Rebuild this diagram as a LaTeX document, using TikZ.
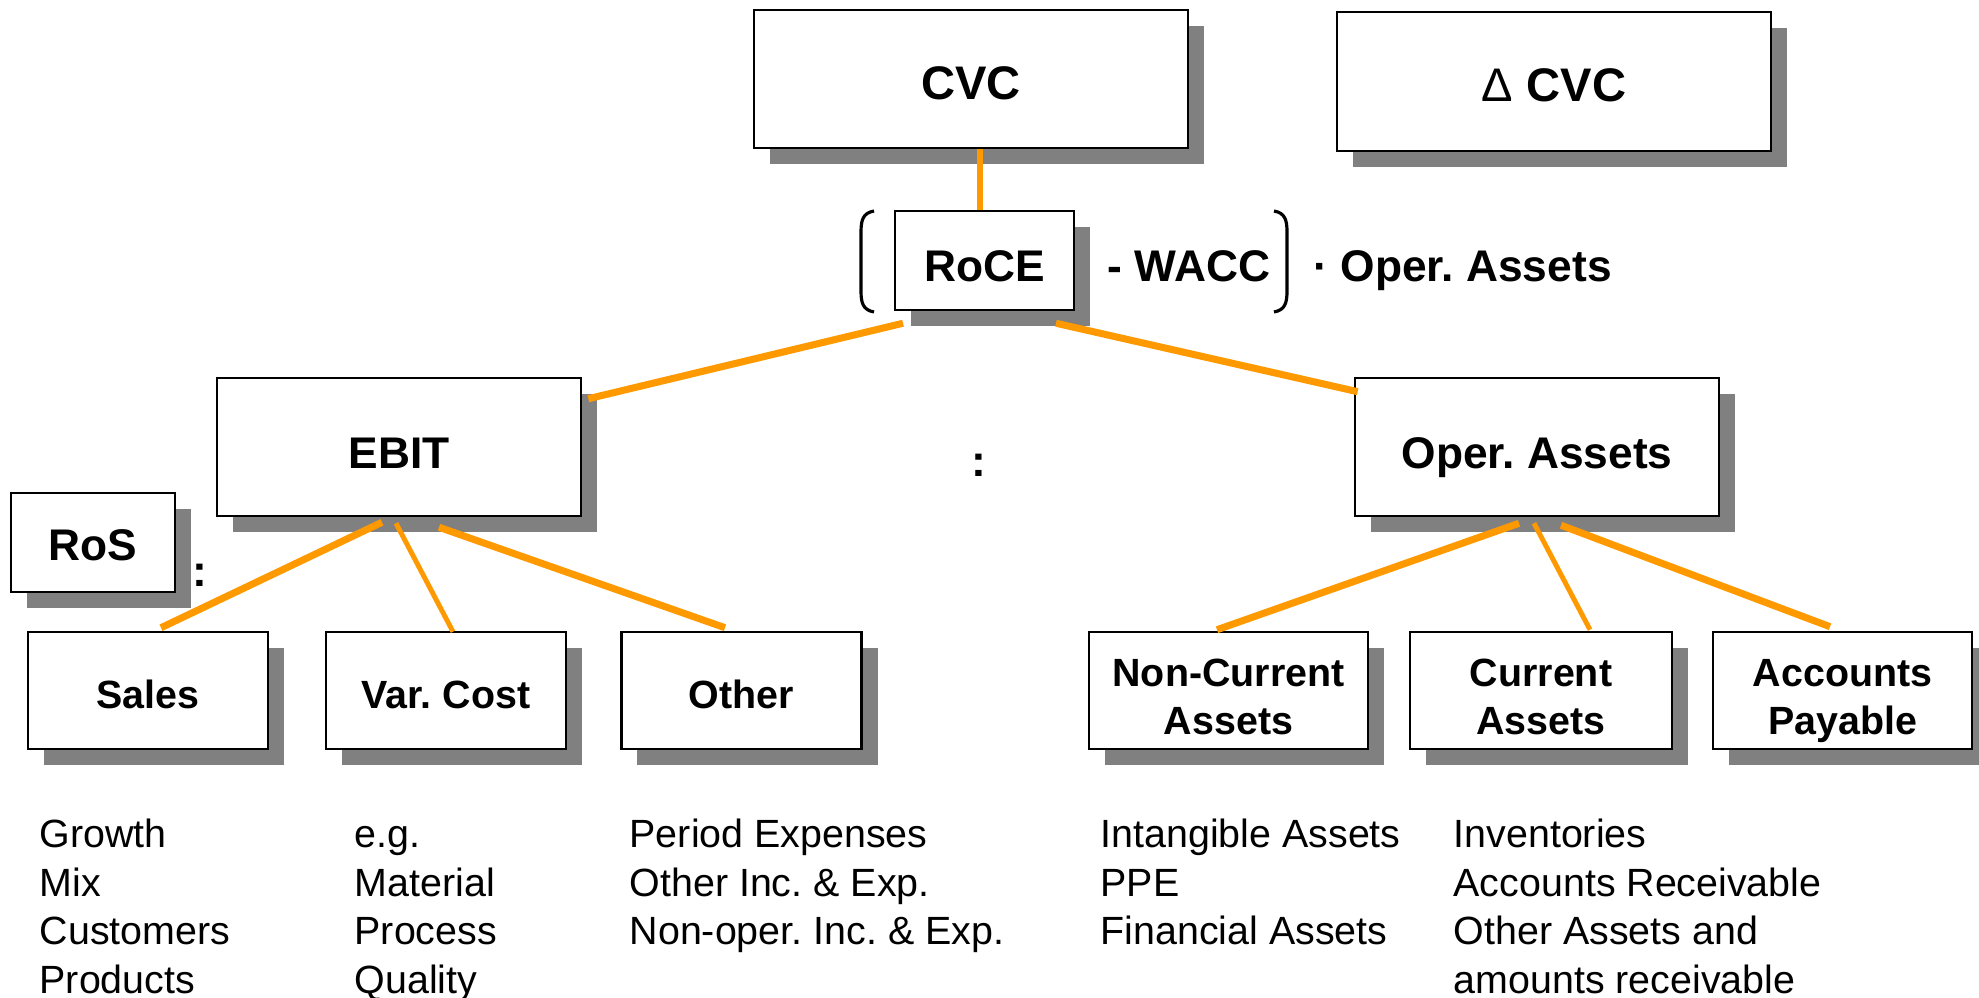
\documentclass[tikz,border=0pt]{standalone}
\usepackage{fontspec}
\setmainfont{Liberation Sans}
\usetikzlibrary{shadows,calc}
\definecolor{org}{RGB}{255,153,0}
\definecolor{shd}{RGB}{128,128,128}
\tikzset{
  box/.style={draw=black, line width=0.7pt, fill=white, inner sep=0pt,
    text height=9.96pt, text depth=0pt,
    font=\bfseries\fontsize{11.2}{13.66}\selectfont,
    general shadow={shadow xshift=0.16cm, shadow yshift=-0.16cm, fill=shd, draw=none}},
  twobox/.style={box, text height=25.3pt},
  bigbox/.style={box, text height=11.95pt, font=\bfseries\fontsize{12.6}{15}\selectfont},
  topbox/.style={box, text height=11.4pt, font=\bfseries\fontsize{13.4}{16}\selectfont},
  conn/.style={draw=org, line width=2pt},
  thinconn/.style={draw=org, line width=1.4pt},
  body/.style={inner sep=0pt, anchor=base west, font=\fontsize{11.2}{13.7}\selectfont},
  bold/.style={inner sep=0pt, anchor=base west, font=\bfseries\fontsize{12.6}{15}\selectfont},
  paren/.style={draw=black, line width=0.9pt},
}
\newcommand{\twolines}[2]{\begin{tabular}[b]{@{}c@{}}#1\\#2\end{tabular}}
\begin{document}
\frenchspacing
\begin{tikzpicture}[x=0.01cm, y=-0.01cm]
\useasboundingbox (0,0) rectangle (1979,998);
% boxes
\node[topbox, minimum width=4.34cm, minimum height=1.38cm] (cvc) at (971,79) {CVC};
\node[topbox, minimum width=4.34cm, minimum height=1.39cm] (dcvc) at (1554,81.5) {{\mdseries Δ} CVC};
\node[bigbox, minimum width=1.79cm, minimum height=0.99cm] (roce) at (984.5,260.5) {RoCE};
\node[bigbox, minimum width=3.64cm, minimum height=1.38cm] (ebit) at (399,447) {EBIT};
\node[bigbox, minimum width=3.64cm, minimum height=1.38cm] (opa) at (1537,447) {Oper. Assets};
\node[bigbox, text height=9.96pt, minimum width=1.64cm, minimum height=0.99cm] (ros) at (93,542.5) {RoS};
\node[box, minimum width=2.40cm, minimum height=1.17cm] (sales) at (148,690.5) {Sales};
\node[box, minimum width=2.40cm, minimum height=1.17cm] (var) at (446,690.5) {Var. Cost};
\node[box, minimum width=2.40cm, minimum height=1.17cm] (oth) at (741.5,690.5) {Other};
\node[twobox, minimum width=2.79cm, minimum height=1.17cm] (nca) at (1228.5,690.5) {\twolines{Non-Current}{Assets}};
\node[twobox, minimum width=2.62cm, minimum height=1.17cm] (ca) at (1541,690.5) {\twolines{Current}{Assets}};
\node[twobox, minimum width=2.59cm, minimum height=1.17cm] (ap) at (1842.5,690.5) {\twolines{Accounts}{Payable}};
% formula text
\node[bold] (wacc) at (1107,282) {- WACC};
\node[bold] (opat) at (1313,282) {· Oper. Assets};
\node[inner sep=0pt, font=\bfseries\fontsize{12.6}{15}\selectfont] (col1) at (979,465) {:};
\node[inner sep=0pt, font=\bfseries\fontsize{12.6}{15}\selectfont] (col2) at (200,575) {:};
% parentheses
\draw[paren] (874,211) .. controls (863,213) and (861,220) .. (861,232) -- (861,291) .. controls (861,303) and (863,310) .. (874,312);
\draw[paren] (1274,211) .. controls (1285,213) and (1287,220) .. (1287,232) -- (1287,291) .. controls (1287,303) and (1285,310) .. (1274,312);
% connectors
\draw[draw=org, line width=1.7pt] ([xshift=-0.045cm]roce.north) -- ([xshift=-0.045cm]roce.north |- cvc.south);
\draw[conn] ($(roce.south)+(-81.5,12)$) -- ($(ebit.north east)+(6,22)$);
\draw[conn] ($(roce.south)+(71.5,12)$) -- ($(opa.north west)+(4,15)$);
\draw[conn] ($(ebit.south)+(-17,5)$) -- ($(sales.north)+(13,-3)$);
\draw[thinconn] ($(ebit.south)+(-3,6)$) -- ($(var.north)+(7,1)$);
\draw[conn] ($(ebit.south)+(40,10)$) -- ($(oth.north)+(-16.5,-3)$);
\draw[conn] ($(opa.south)+(-18,6)$) -- ($(nca.north)+(-11.5,-1)$);
\draw[thinconn] ($(opa.south)+(-3,6)$) -- ($(ca.north)+(49,-1)$);
\draw[conn] ($(opa.south)+(24,8)$) -- ($(ap.north)+(-12.5,-4)$);
% body texts
\node[body] (s1) at (39,848) {Growth};
\node[body] (s2) at (39,896.3) {Mix};
\node[body] (s3) at (39,944.6) {Customers};
\node[body] (s4) at (39,993) {Products};
\node[body] (v1) at (354,848) {e.g.};
\node[body] (v2) at (354,896.3) {Material};
\node[body] (v3) at (354,944.6) {Process};
\node[body] (v4) at (354,993) {Quality};
\node[body] (o1) at (629,848) {Period Expenses};
\node[body] (o2) at (629,896.3) {Other Inc. \& Exp.};
\node[body] (o3) at (629,944.6) {Non-oper. Inc. \& Exp.};
\node[body] (n1) at (1100,848) {Intangible Assets};
\node[body] (n2) at (1100,896.3) {PPE};
\node[body] (n3) at (1100,944.6) {Financial Assets};
\node[body] (c1) at (1453,848) {Inventories};
\node[body] (c2) at (1453,896.3) {Accounts Receivable};
\node[body] (c3) at (1453,944.6) {Other Assets and};
\node[body] (c4) at (1453,993) {amounts receivable};
\end{tikzpicture}
\end{document}
